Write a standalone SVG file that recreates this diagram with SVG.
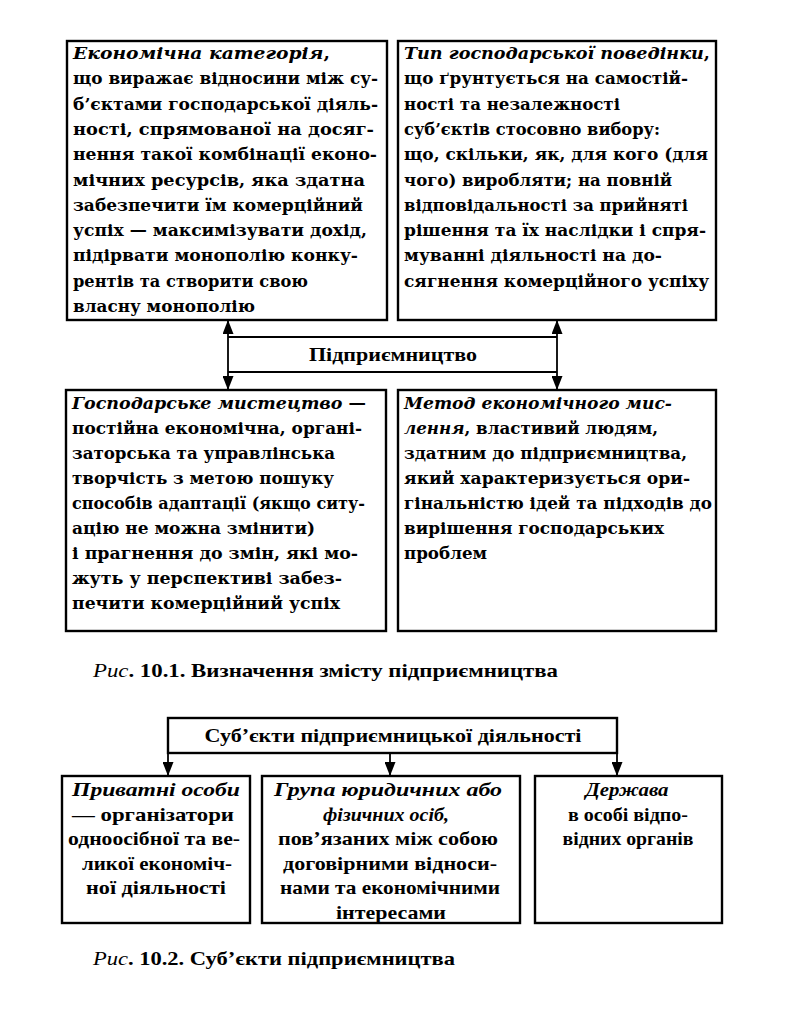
<svg xmlns="http://www.w3.org/2000/svg" width="804" height="1024" viewBox="0 0 804 1024">
<style>
.box{fill:#fff;stroke:#000;stroke-width:2.4}
.ln{fill:none;stroke:#000;stroke-width:1.8}
.t{font-family:"DejaVu Serif","Liberation Serif",serif;font-weight:bold;font-size:16px;fill:#000}
.c{font-family:"Liberation Serif","DejaVu Serif",serif;font-weight:bold;font-size:19px;fill:#000}
.i{font-style:italic;font-weight:bold}
.n{font-style:italic;font-weight:normal}
</style>
<defs>
<marker id="ah" viewBox="0 0 14 11" refX="14" refY="5.5" markerWidth="14" markerHeight="11" markerUnits="userSpaceOnUse" orient="auto-start-reverse">
<path d="M0,0 L14,5.5 L0,11 Z" fill="#000"/>
</marker>
</defs>
<rect width="804" height="1024" fill="#fff"/>

<g id="connectors">
<line class="ln" x1="228" y1="390" x2="228" y2="320" marker-end="url(#ah)" marker-start="url(#ah)"/>
<line class="ln" x1="557" y1="390" x2="557" y2="320" marker-end="url(#ah)" marker-start="url(#ah)"/>
<line class="ln" x1="168" y1="753" x2="168" y2="776" marker-end="url(#ah)"/>
<line class="ln" x1="390" y1="753" x2="390" y2="776" marker-end="url(#ah)"/>
<line class="ln" x1="617" y1="753" x2="617" y2="776" marker-end="url(#ah)"/>
</g>

<g id="node-ekon-kategoriia">
<rect class="box" x="67" y="41" width="320" height="279"/>
<text class="t" x="73" y="59" textLength="257" lengthAdjust="spacingAndGlyphs"><tspan class="i">Економічна категорія</tspan>,</text>
<text class="t" x="73" y="84.3" textLength="305" lengthAdjust="spacingAndGlyphs">що виражає відносини між су-</text>
<text class="t" x="73" y="109.6" textLength="305" lengthAdjust="spacingAndGlyphs">б’єктами господарської діяль-</text>
<text class="t" x="73" y="134.9" textLength="301" lengthAdjust="spacingAndGlyphs">ності, спрямованої на досяг-</text>
<text class="t" x="73" y="160.2" textLength="304" lengthAdjust="spacingAndGlyphs">нення такої комбінації еконо-</text>
<text class="t" x="73" y="185.5" textLength="292" lengthAdjust="spacingAndGlyphs">мічних ресурсів, яка здатна</text>
<text class="t" x="73" y="210.8" textLength="290" lengthAdjust="spacingAndGlyphs">забезпечити їм комерційний</text>
<text class="t" x="73" y="236.1" textLength="294" lengthAdjust="spacingAndGlyphs">успіх —  максимізувати дохід,</text>
<text class="t" x="73" y="261.4" textLength="285" lengthAdjust="spacingAndGlyphs">підірвати монополію конку-</text>
<text class="t" x="73" y="286.7" textLength="235" lengthAdjust="spacingAndGlyphs">рентів та створити свою</text>
<text class="t" x="73" y="312" textLength="182" lengthAdjust="spacingAndGlyphs">власну монополію</text>
</g>

<g id="node-typ-povedinky">
<rect class="box" x="398" y="41" width="318" height="279"/>
<text class="t" x="404" y="59" textLength="306" lengthAdjust="spacingAndGlyphs"><tspan class="i">Тип господарської поведінки</tspan>,</text>
<text class="t" x="404" y="84.3" textLength="284" lengthAdjust="spacingAndGlyphs">що ґрунтується на самостій-</text>
<text class="t" x="404" y="109.6" textLength="216" lengthAdjust="spacingAndGlyphs">ності та незалежності</text>
<text class="t" x="404" y="134.9" textLength="256" lengthAdjust="spacingAndGlyphs">суб’єктів стосовно вибору:</text>
<text class="t" x="404" y="160.2" textLength="304" lengthAdjust="spacingAndGlyphs">що, скільки, як, для кого (для</text>
<text class="t" x="404" y="185.5" textLength="268" lengthAdjust="spacingAndGlyphs">чого) виробляти; на повній</text>
<text class="t" x="404" y="210.8" textLength="284" lengthAdjust="spacingAndGlyphs">відповідальності за прийняті</text>
<text class="t" x="404" y="236.1" textLength="302" lengthAdjust="spacingAndGlyphs">рішення та їх наслідки і спря-</text>
<text class="t" x="404" y="261.4" textLength="258" lengthAdjust="spacingAndGlyphs">муванні діяльності на до-</text>
<text class="t" x="404" y="286.7" textLength="305" lengthAdjust="spacingAndGlyphs">сягнення комерційного успіху</text>
</g>

<g id="node-pidpryiemnytstvo">
<line class="ln" x1="228" y1="337" x2="557" y2="337"/>
<line class="ln" x1="228" y1="372" x2="557" y2="372"/>
<text class="c" x="393" y="361" text-anchor="middle" textLength="168" lengthAdjust="spacingAndGlyphs">Підприємництво</text>
</g>

<g id="node-hosp-mystetstvo">
<rect class="box" x="66" y="390" width="320" height="241"/>
<text class="t" x="72" y="409" textLength="294" lengthAdjust="spacingAndGlyphs"><tspan class="i">Господарське мистецтво</tspan> —</text>
<text class="t" x="72" y="434" textLength="290" lengthAdjust="spacingAndGlyphs">постійна економічна, органі-</text>
<text class="t" x="72" y="459" textLength="263" lengthAdjust="spacingAndGlyphs">заторська та управлінська</text>
<text class="t" x="72" y="484" textLength="262" lengthAdjust="spacingAndGlyphs">творчість з метою пошуку</text>
<text class="t" x="72" y="509" textLength="293" lengthAdjust="spacingAndGlyphs">способів адаптації (якщо ситу-</text>
<text class="t" x="72" y="534" textLength="243" lengthAdjust="spacingAndGlyphs">ацію не можна змінити)</text>
<text class="t" x="72" y="559" textLength="286" lengthAdjust="spacingAndGlyphs">і прагнення до змін, які мо-</text>
<text class="t" x="72" y="584" textLength="270" lengthAdjust="spacingAndGlyphs">жуть у перспективі забез-</text>
<text class="t" x="72" y="609" textLength="268" lengthAdjust="spacingAndGlyphs">печити комерційний успіх</text>
</g>

<g id="node-metod-myslennia">
<rect class="box" x="398" y="390" width="318" height="241"/>
<text class="t i" x="404" y="409" textLength="268" lengthAdjust="spacingAndGlyphs">Метод економічного мис-</text>
<text class="t" x="404" y="434" textLength="254" lengthAdjust="spacingAndGlyphs"><tspan class="i">лення</tspan>, властивий людям,</text>
<text class="t" x="404" y="459" textLength="283" lengthAdjust="spacingAndGlyphs">здатним до підприємництва,</text>
<text class="t" x="404" y="484" textLength="286" lengthAdjust="spacingAndGlyphs">який характеризується ори-</text>
<text class="t" x="404" y="509" textLength="308" lengthAdjust="spacingAndGlyphs">гінальністю ідей та підходів до</text>
<text class="t" x="404" y="534" textLength="260" lengthAdjust="spacingAndGlyphs">вирішення господарських</text>
<text class="t" x="404" y="559" textLength="83" lengthAdjust="spacingAndGlyphs">проблем</text>
</g>

<g id="caption-1">
<text class="c" x="93" y="677" textLength="465" lengthAdjust="spacingAndGlyphs"><tspan class="n">Рис</tspan>. 10.1. Визначення змісту підприємництва</text>
</g>

<g id="node-subiekty">
<rect class="box" x="168" y="718" width="449" height="35"/>
<text class="c" x="393" y="742" text-anchor="middle" textLength="377" lengthAdjust="spacingAndGlyphs">Суб’єкти підприємницької діяльності</text>
</g>

<g id="node-pryvatni-osoby">
<rect class="box" x="62" y="776" width="188" height="147"/>
<text class="c i" text-anchor="middle" x="156" y="796" textLength="168" lengthAdjust="spacingAndGlyphs">Приватні особи</text>
<text class="c" text-anchor="middle" x="153" y="821" textLength="162" lengthAdjust="spacingAndGlyphs">— організатори</text>
<text class="c" text-anchor="middle" x="154" y="845" textLength="172" lengthAdjust="spacingAndGlyphs">одноосібної та ве-</text>
<text class="c" text-anchor="middle" x="157" y="870" textLength="150" lengthAdjust="spacingAndGlyphs">ликої економіч-</text>
<text class="c" text-anchor="middle" x="156" y="894" textLength="140" lengthAdjust="spacingAndGlyphs">ної діяльності</text>
</g>

<g id="node-hrupa-osib">
<rect class="box" x="262" y="776" width="258" height="147"/>
<text class="c i" text-anchor="middle" x="388" y="796" textLength="228" lengthAdjust="spacingAndGlyphs">Група юридичних або</text>
<text class="c i" text-anchor="middle" x="386" y="821" textLength="126" lengthAdjust="spacingAndGlyphs">фізичних осіб,</text>
<text class="c" text-anchor="middle" x="388" y="845" textLength="220" lengthAdjust="spacingAndGlyphs">пов’язаних між собою</text>
<text class="c" text-anchor="middle" x="390" y="870" textLength="214" lengthAdjust="spacingAndGlyphs">договірними відноси-</text>
<text class="c" text-anchor="middle" x="390" y="894" textLength="220" lengthAdjust="spacingAndGlyphs">нами та економічними</text>
<text class="c" text-anchor="middle" x="391" y="919" textLength="110" lengthAdjust="spacingAndGlyphs">інтересами</text>
</g>

<g id="node-derzhava">
<rect class="box" x="535" y="776" width="187" height="147"/>
<text class="c i" text-anchor="middle" x="627" y="796" textLength="83" lengthAdjust="spacingAndGlyphs">Держава</text>
<text class="c" text-anchor="middle" x="628" y="821" textLength="120" lengthAdjust="spacingAndGlyphs">в особі відпо-</text>
<text class="c" text-anchor="middle" x="628" y="845" textLength="131" lengthAdjust="spacingAndGlyphs">відних органів</text>
</g>

<g id="caption-2">
<text class="c" x="93" y="965" textLength="362" lengthAdjust="spacingAndGlyphs"><tspan class="n">Рис</tspan>. 10.2. Суб’єкти підприємництва</text>
</g>
</svg>
